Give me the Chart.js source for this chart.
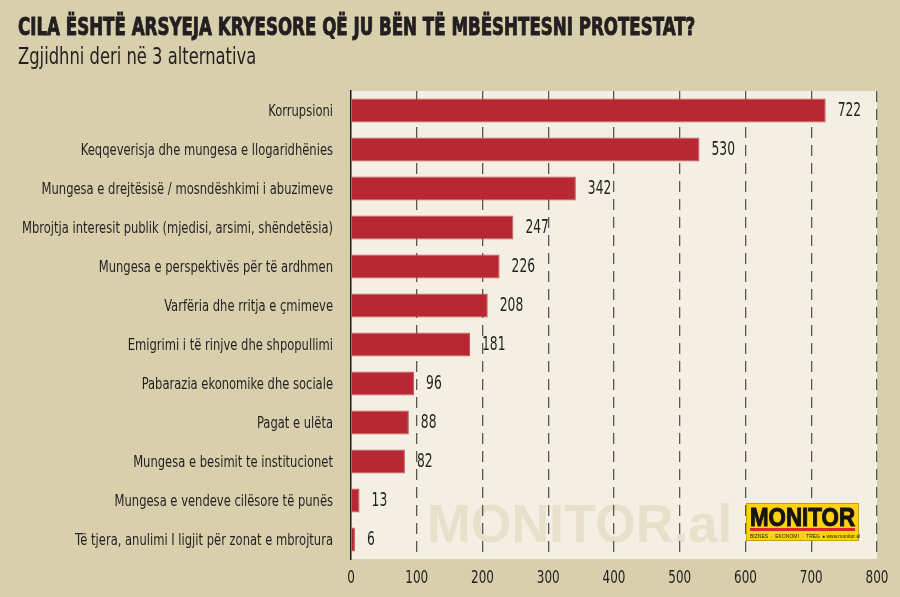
<!DOCTYPE html>
<html>
<head>
<meta charset="utf-8">
<script src="https://cdn.jsdelivr.net/npm/chart.js@4.4.1/dist/chart.umd.min.js"></script>
<style>
  body { margin: 0; background: #d8cfac; }
  #wrap { position: relative; width: 900px; height: 597px; overflow: hidden; }
  #myChart { position: absolute; left: 0; top: 0; }
  .txt { position: absolute; left: 18px; white-space: nowrap; color: #231f20; transform-origin: 0 0;
         font-family: 'Liberation Sans Narrow', 'DejaVu Sans Condensed', sans-serif; line-height: 1; }
  #title { top: 15px; font-size: 24px; font-weight: bold; -webkit-text-stroke: 0.9px #231f20; }
  #subtitle { top: 45px; font-size: 23px; }
</style>
</head>
<body>
<div id="wrap">
  <canvas id="myChart" width="900" height="597"></canvas>
  <div class="txt" id="title">CILA ËSHTË ARSYEJA KRYESORE QË JU BËN TË MBËSHTESNI PROTESTAT?</div>
  <div class="txt" id="subtitle">Zgjidhni deri në 3 alternativa</div>
</div>
<script>
const categories = [
    'Korrupsioni',
    'Keqqeverisja dhe mungesa e llogaridhënies',
    'Mungesa e drejtësisë / mosndëshkimi i abuzimeve',
    'Mbrojtja interesit publik (mjedisi, arsimi, shëndetësia)',
    'Mungesa e perspektivës për të ardhmen',
    'Varfëria dhe rritja e çmimeve',
    'Emigrimi i të rinjve dhe shpopullimi',
    'Pabarazia ekonomike dhe sociale',
    'Pagat e ulëta',
    'Mungesa e besimit te institucionet',
    'Mungesa e vendeve cilësore të punës',
    'Të tjera, anulimi I ligjit për zonat e mbrojtura'
]
const values = [722, 530, 342, 247, 226, 208, 181, 96, 88, 82, 13, 6]
const xTicks = [0, 100, 200, 300, 400, 500, 600, 700, 800]

const narrow = "'Liberation Sans Narrow', 'DejaVu Sans Condensed', sans-serif"
const ink = '#231f20'

// squeeze the heading texts to the width they have in the print
const fitWidth = (id, w) => {
    const el = document.getElementById(id)
    el.style.transform = 'scaleX(' + (w / el.offsetWidth) + ')'
}
fitWidth('title', 677)
fitWidth('subtitle', 238)

// no narrow font here, so text gets squeezed sideways
const squeezed = (ctx, text, x, y, align, sx) => {
    const w = ctx.measureText(text).width * sx
    let left = x
    if (align === 'right') left = x - w
    if (align === 'center') left = x - w / 2
    ctx.save()
    ctx.translate(left, y)
    ctx.scale(sx, 1)
    ctx.textAlign = 'left'
    ctx.fillText(text, 0, 0)
    ctx.restore()
}

const labelsPlugin = {
    id: 'labelsPlugin',
    beforeDraw(chart) {
        const { ctx, chartArea: a } = chart
        ctx.save()
        ctx.fillStyle = '#f3f0e3'
        ctx.fillRect(a.left, a.top, a.right - a.left, a.bottom - a.top)
        // watermark
        ctx.fillStyle = '#e7e1cc'
        ctx.font = 'bold 54px "Liberation Sans", Arial, sans-serif'
        ctx.textBaseline = 'alphabetic'
        const ww = ctx.measureText('MONITOR.al').width
        ctx.translate(427, 542)
        ctx.scale(305 / ww, 1)
        ctx.fillText('MONITOR.al', 0, 0)
        ctx.restore()
    },
    afterDatasetsDraw(chart) {
        const { ctx, scales } = chart
        const meta = chart.getDatasetMeta(0)
        ctx.save()
        ctx.fillStyle = ink
        ctx.textBaseline = 'middle'

        // value labels
        ctx.font = '19px ' + narrow
        meta.data.forEach((bar, i) => {
            squeezed(ctx, String(values[i]), bar.x + 12, bar.y + 1, 'left', 0.72)
        })

        // category labels
        ctx.font = '16.5px ' + narrow
        const longest = ctx.measureText(categories[3]).width
        const sx = 311 / longest
        categories.forEach((c, i) => {
            squeezed(ctx, c, scales.y.left + scales.y.width - 18, scales.y.getPixelForTick(i) + 1, 'right', sx)
        })

        // x tick labels
        ctx.font = '18px ' + narrow
        ctx.textBaseline = 'alphabetic'
        xTicks.forEach(v => {
            squeezed(ctx, String(v), scales.x.getPixelForValue(v), 583, 'center', 0.74)
        })
        ctx.restore()
    },
    afterDraw(chart) {
        const { ctx } = chart
        ctx.save()
        // logo box
        ctx.fillStyle = '#fdd20e'
        ctx.fillRect(746, 503, 113, 38)
        ctx.strokeStyle = '#c9a000'
        ctx.lineWidth = 1
        ctx.strokeRect(746.5, 503.5, 112, 37)
        ctx.fillStyle = '#161310'
        ctx.font = '900 25px "Liberation Sans", Arial, sans-serif'
        ctx.textBaseline = 'alphabetic'
        const w = ctx.measureText('MONITOR').width
        ctx.save()
        ctx.translate(750, 526)
        ctx.scale(105 / w, 1)
        ctx.lineWidth = 1
        ctx.strokeStyle = '#161310'
        ctx.fillText('MONITOR', 0, 0)
        ctx.strokeText('MONITOR', 0, 0)
        ctx.restore()
        ctx.fillStyle = '#e3242b'
        ctx.fillRect(750, 528, 105, 3)
        ctx.fillStyle = '#1a1a1a'
        ctx.font = '5px "Liberation Sans", Arial, sans-serif'
        ctx.fillText('BIZNES  ·  EKONOMI  ·  TREG', 750, 538)
        ctx.fillText('● www.monitor.al', 822, 538)
        ctx.restore()
    }
}

const dataConfig = {
    labels: categories,
    datasets: [{
        data: values,
        backgroundColor: '#b72832',
        borderColor: '#c9545b',
        borderWidth: 1,
        borderSkipped: 'left',
        categoryPercentage: 1,
        barPercentage: 0.62
    }]
}

const config = {
    type: 'bar',
    data: dataConfig,
    plugins: [labelsPlugin],
    options: {
        indexAxis: 'y',
        responsive: false,
        animation: false,
        layout: { padding: { top: 91, right: 23, left: 0, bottom: 0 } },
        plugins: {
            legend: { display: false },
            tooltip: { enabled: false }
        },
        scales: {
            x: {
                min: 0,
                max: 800,
                afterBuildTicks: (scale) => { scale.ticks = xTicks.map(v => ({ value: v })) },
                afterFit: (scale) => { scale.height = 38 },
                grid: {
                    drawTicks: false,
                    lineWidth: 1.3,
                    color: (c) => c.index === 0 ? 'rgba(0,0,0,0)' : '#5a5752'
                },
                border: { display: false, dash: [11, 7] },
                ticks: { display: false }
            },
            y: {
                afterFit: (scale) => { scale.width = 351 },
                grid: { display: false, drawTicks: false },
                border: { display: true, color: '#1a1a1a', width: 1.5 },
                ticks: { display: false }
            }
        }
    }
}

const myChart = new Chart(document.getElementById('myChart'), config)
</script>
</body>
</html>
